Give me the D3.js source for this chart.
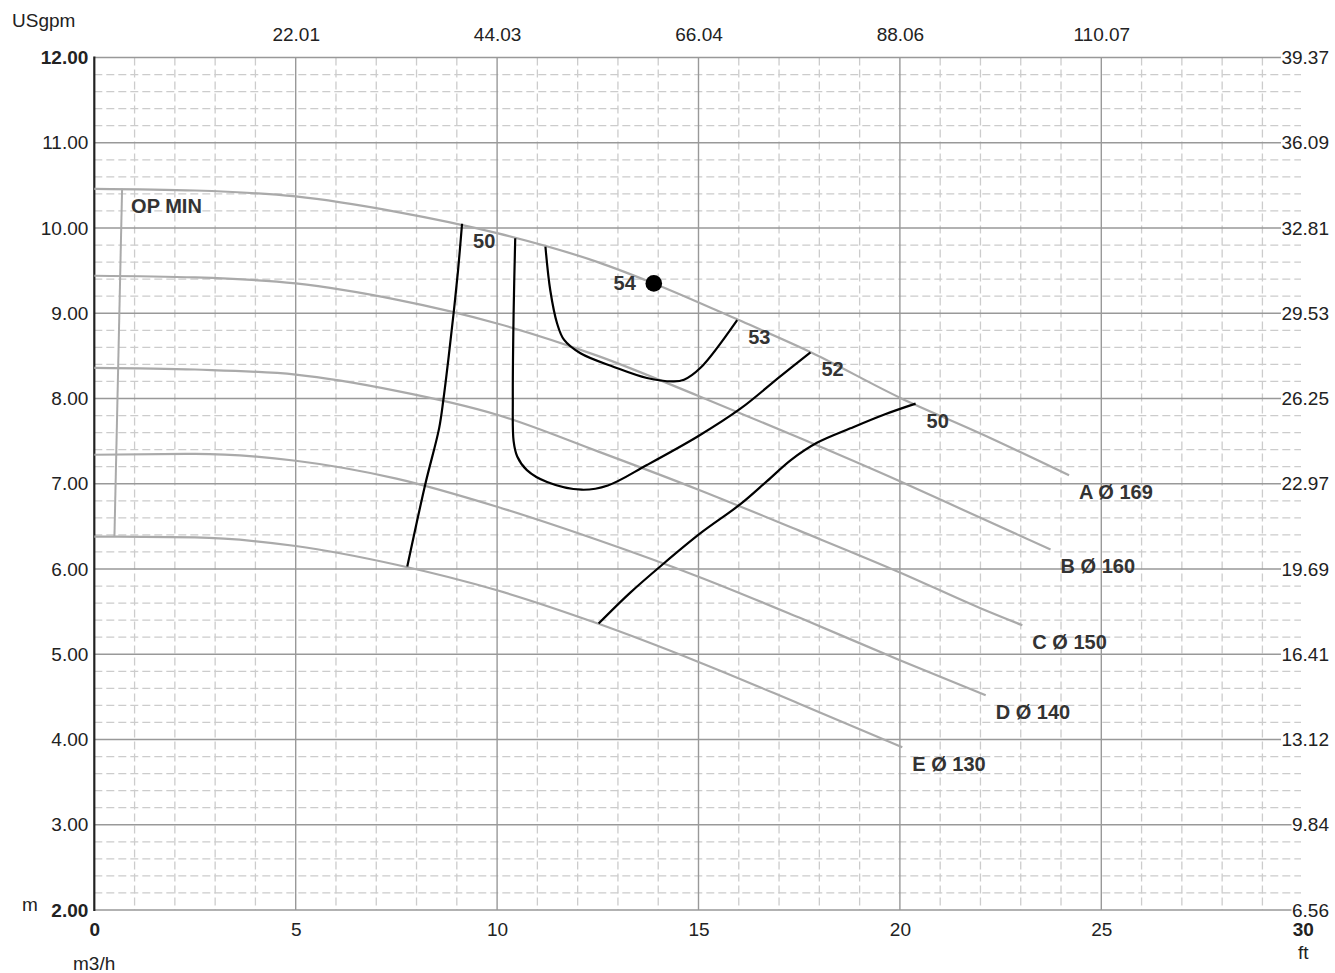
<!DOCTYPE html>
<html>
<head>
<meta charset="utf-8">
<script src="https://cdn.jsdelivr.net/npm/d3@7"></script>
<style>
  html, body { margin: 0; padding: 0; background: #fff; }
  svg { display: block; font-family: "Liberation Sans", Arial, sans-serif; }
  .tick text { font-size: 19px; fill: #222; }
  .lbl { font-size: 20px; font-weight: 700; fill: #333; }
</style>
</head>
<body>
<svg id="chart" width="1335" height="973"></svg>
<script>
// axis ticks and labels
const qMajor = [0, 5, 10, 15, 20, 25, 30];
const hMajor = [2, 3, 4, 5, 6, 7, 8, 9, 10, 11, 12];
const gpmTicks = [5, 10, 15, 20, 25];
const gpmLabels = ["22.01", "44.03", "66.04", "88.06", "110.07"];
const ftLabels = ["6.56", "9.84", "13.12", "16.41", "19.69", "22.97", "26.25", "29.53", "32.81", "36.09", "39.37"];

// pump curves [Q m3/h, H m]
const curveA = [[0,10.46],[2.5,10.44],[5,10.37],[7.5,10.19],[10,9.94],[12.5,9.6],[13.89,9.35],[16,8.92],[17.8,8.54],[20,8.01],[22,7.59],[24.2,7.10]];
const curveB = [[0,9.44],[2.5,9.42],[5,9.35],[7.5,9.16],[10,8.88],[12.5,8.5],[15,8.03],[17.5,7.54],[20,7.03],[22,6.6],[23.74,6.23]];
const curveC = [[0,8.36],[2.5,8.34],[5,8.28],[7.5,8.09],[10,7.81],[12.5,7.38],[15,6.93],[17.5,6.45],[20,5.96],[22,5.54],[23.04,5.34]];
const curveD = [[0,7.34],[2.5,7.35],[5,7.27],[7.5,7.06],[10,6.73],[12.5,6.34],[15,5.91],[17.5,5.43],[20,4.93],[22.13,4.52]];
const curveE = [[0,6.38],[2.5,6.37],[5,6.27],[7.5,6.05],[10,5.75],[12.5,5.36],[15,4.91],[17.5,4.42],[20.06,3.91]];
const curveNames = ["A Ø 169", "B Ø 160", "C Ø 150", "D Ø 140", "E Ø 130"];

// efficiency contours
const eff50L = [[9.13,10.05],[9.03,9.5],[8.92,9.0],[8.80,8.5],[8.67,8.0],[8.56,7.65],[8.22,7.0],[7.77,6.03]];
const eff52 = [[10.45,9.88],[10.41,9.0],[10.39,8.0],[10.41,7.5],[10.50,7.32],[10.74,7.16],[11.24,7.02],[12.1,6.93],[12.75,6.98],[13.72,7.22],[15.0,7.56],[16.04,7.88],[17.03,8.26],[17.78,8.54]];
const eff53 = [[11.20,9.78],[11.32,9.27],[11.49,8.88],[11.66,8.69],[12.07,8.53],[12.9,8.37],[13.72,8.24],[14.39,8.20],[14.64,8.22],[15.05,8.36],[15.96,8.92]];
const eff50R = [[12.52,5.36],[13.3,5.72],[14.1,6.05],[15.05,6.42],[16.04,6.76],[16.7,7.03],[17.3,7.28],[17.94,7.48],[18.77,7.65],[19.6,7.81],[20.39,7.94]];
const effNames = ["50", "52", "53", "50"];

const opMin = [[0.69,10.46],[0.50,6.38]];
const bep = [13.89, 9.35];
const bepName = "54";

const svg = d3.select("#chart");
const x = d3.scaleLinear().domain([0, 30]).range([94.3, 1302.7]);
const y = d3.scaleLinear().domain([2, 12]).range([910, 57.5]);

const grid = svg.append("g");

// minor grid (dashed)
const qMinor = d3.range(1, 30).filter(v => v % 5 !== 0);
const hMinor = d3.range(2, 12, 0.2).map(v => +v.toFixed(1)).filter(v => Math.abs(v - Math.round(v)) > 0.01);

grid.selectAll(".vmin").data(qMinor).enter().append("line")
  .attr("x1", d => x(d)).attr("x2", d => x(d))
  .attr("y1", y(12)).attr("y2", y(2))
  .attr("stroke", "#cccccc").attr("stroke-width", 1.3).attr("stroke-dasharray", "8,4");
grid.selectAll(".hmin").data(hMinor).enter().append("line")
  .attr("x1", x(0)).attr("x2", 1301)
  .attr("y1", d => y(d)).attr("y2", d => y(d))
  .attr("stroke", "#cccccc").attr("stroke-width", 1.3).attr("stroke-dasharray", "8,4");

// major grid
grid.selectAll(".vmaj").data(qMajor.slice(1, -1)).enter().append("line")
  .attr("x1", d => x(d)).attr("x2", d => x(d))
  .attr("y1", y(12)).attr("y2", y(2))
  .attr("stroke", "#999").attr("stroke-width", 1.4);
grid.selectAll(".hmaj").data(hMajor).enter().append("line")
  .attr("x1", x(0)).attr("x2", 1310)
  .attr("y1", d => y(d)).attr("y2", d => y(d))
  .attr("stroke", "#999").attr("stroke-width", 1.4);

// left axis line
svg.append("line")
  .attr("x1", x(0)).attr("x2", x(0)).attr("y1", y(12) - 1).attr("y2", y(2) + 1)
  .attr("stroke", "#222").attr("stroke-width", 2.2);

// axes
const axBottom = svg.append("g").attr("transform", `translate(0,${y(2)})`)
  .call(d3.axisBottom(x).tickValues(qMajor).tickSize(0).tickPadding(13).tickFormat(d3.format("d")));
axBottom.select(".domain").remove();
axBottom.selectAll(".tick text").style("font-weight", d => (d === 0 || d === 30) ? "700" : "400");

const axTop = svg.append("g").attr("transform", `translate(0,${y(12)})`)
  .call(d3.axisTop(x).tickValues(gpmTicks).tickSize(0).tickPadding(17).tickFormat((d, i) => gpmLabels[i]));
axTop.select(".domain").remove();

const axLeft = svg.append("g").attr("transform", `translate(${x(0)},0)`)
  .call(d3.axisLeft(y).tickValues(hMajor).tickSize(0).tickPadding(6).tickFormat(d3.format(".2f")));
axLeft.select(".domain").remove();
axLeft.selectAll(".tick text").style("font-weight", d => (d === 2 || d === 12) ? "700" : "400");

const axRight = svg.append("g").attr("transform", "translate(1329,0)")
  .call(d3.axisRight(y).tickValues(hMajor).tickSize(0).tickPadding(0).tickFormat((d, i) => ftLabels[i]));
axRight.select(".domain").remove();
axRight.selectAll(".tick text").attr("text-anchor", "end");
axRight.selectAll(".tick").each(function() {
  const t = d3.select(this).select("text");
  const b = t.node().getBBox();
  d3.select(this).insert("rect", "text")
    .attr("x", b.x - 0.5).attr("y", b.y + 2).attr("width", b.width + 2).attr("height", b.height - 4)
    .attr("fill", "#fff");
});

// axis titles
svg.append("text").attr("x", 12).attr("y", 27).attr("font-size", 19).attr("fill", "#222").text("USgpm");
svg.append("text").attr("x", 22).attr("y", 911).attr("font-size", 19).attr("fill", "#222").text("m");
svg.append("text").attr("x", 73).attr("y", 970).attr("font-size", 19).attr("fill", "#222").text("m3/h");
svg.append("text").attr("x", 1298).attr("y", 959).attr("font-size", 19).attr("fill", "#222").text("ft");

const line = d3.line().x(d => x(d[0])).y(d => y(d[1]));
const monotone = d3.line().x(d => x(d[0])).y(d => y(d[1])).curve(d3.curveMonotoneX);
const smooth = d3.line().x(d => x(d[0])).y(d => y(d[1])).curve(d3.curveCatmullRom.alpha(0.5));

// pump curves
const curves = [curveA, curveB, curveC, curveD, curveE];
const cg = svg.append("g");
cg.selectAll(".pump").data(curves).enter().append("path")
  .attr("d", monotone).attr("fill", "none")
  .attr("stroke", "#aaa").attr("stroke-width", 2.2);
cg.append("path").datum(opMin).attr("d", line).attr("fill", "none")
  .attr("stroke", "#aaa").attr("stroke-width", 2);

cg.selectAll(".pumpLbl").data(curves).enter().append("text")
  .attr("class", "lbl")
  .attr("x", d => x(d[d.length - 1][0]) + 10)
  .attr("y", d => y(d[d.length - 1][1]) + 24)
  .text((d, i) => curveNames[i]);

svg.append("text").attr("class", "lbl")
  .attr("x", x(opMin[0][0]) + 9).attr("y", y(opMin[0][1]) + 24)
  .text("OP MIN");

// efficiency contours
const effs = [eff50L, eff52, eff53, eff50R];
const eg = svg.append("g");
eg.selectAll(".eff").data(effs).enter().append("path")
  .attr("d", smooth).attr("fill", "none")
  .attr("stroke", "#000").attr("stroke-width", 2.2);

// label sits next to the end that lies on curve A
const endOnA = d => (d[0][1] > d[d.length - 1][1] && d !== eff52 && d !== eff53) ? d[0] : d[d.length - 1];
eg.selectAll(".effLbl").data(effs).enter().append("text")
  .attr("class", "lbl")
  .attr("x", d => x(endOnA(d)[0]) + 11)
  .attr("y", d => y(endOnA(d)[1]) + 24)
  .text((d, i) => effNames[i]);

// BEP
eg.append("circle").attr("cx", x(bep[0])).attr("cy", y(bep[1])).attr("r", 8.3).attr("fill", "#000");
eg.append("text").attr("class", "lbl").attr("text-anchor", "end")
  .attr("x", x(bep[0]) - 18).attr("y", y(bep[1]) + 7).text(bepName);
</script>
</body>
</html>
